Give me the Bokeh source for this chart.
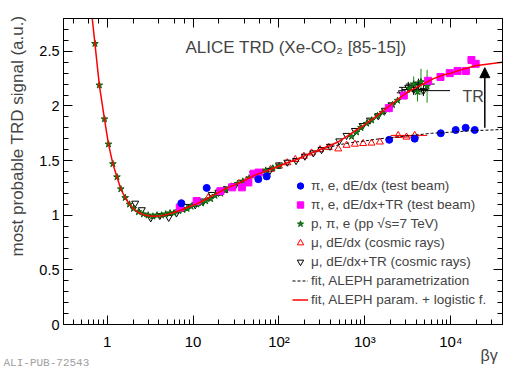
import numpy as np
from bokeh.plotting import figure
from bokeh.models import (LogAxis, LinearAxis, LogTicker, SingleIntervalTicker, Title,
                          Legend, LegendItem, Label, Arrow, NormalHead, Range1d)
from bokeh.embed import file_html
from bokeh.resources import INLINE

# ---- data ----
fit_bg = [0.67, 0.72, 0.81, 0.93, 1.035, 1.165, 1.30, 1.44, 1.62, 1.82, 2.02, 2.31, 2.64, 3.0,
          3.5, 4.3, 5.2, 6.2, 7.4, 8.5, 10, 13, 16, 20, 25, 31, 40, 50, 63, 80, 100, 125, 160,
          200, 250, 320, 400, 500, 630, 800, 1000, 1300, 1600, 2000, 2500, 3200, 4000, 5000,
          6300, 8000, 10000, 13000, 16000, 20000, 25000, 32000, 40000]
fit_val = [2.80, 2.57, 2.19, 1.88, 1.65, 1.47, 1.35, 1.24, 1.16, 1.10, 1.06, 1.025, 1.005, 0.995,
           0.99, 0.995, 1.01, 1.03, 1.05, 1.07, 1.09, 1.13, 1.17, 1.21, 1.25, 1.28, 1.32, 1.36,
           1.39, 1.42, 1.45, 1.48, 1.51, 1.545, 1.575, 1.61, 1.64, 1.675, 1.725, 1.78, 1.83,
           1.895, 1.95, 2.01, 2.07, 2.13, 2.17, 2.21, 2.25, 2.28, 2.30, 2.33, 2.35, 2.37, 2.38,
           2.39, 2.40]

aleph_bg = [150, 200, 250, 320, 400, 500, 700, 1000, 1500, 2000, 3000, 4000, 6000, 10000,
            15000, 20000, 30000, 40000]
aleph_val = [1.50, 1.545, 1.575, 1.605, 1.625, 1.645, 1.665, 1.68, 1.70, 1.71, 1.725, 1.735,
             1.75, 1.76, 1.77, 1.775, 1.78, 1.785]

blue_bg = [7.3, 14.4, 57.5, 72, 1920, 3800, 7650, 11400, 14900, 19000]
blue_val = [1.11, 1.25, 1.33, 1.355, 1.69, 1.70, 1.75, 1.78, 1.80, 1.78]

mag_bg = [7.0, 11, 20.8, 28.5, 37, 44, 50.6, 58, 1900, 2840, 5450, 7590, 9730, 12000, 15000,
          17400, 19500]
mag_val = [1.07, 1.13, 1.22, 1.255, 1.255, 1.30, 1.38, 1.39, 1.98, 2.095, 2.23, 2.265, 2.30,
           2.32, 2.32, 2.42, 2.385]

star_bg = [0.72, 0.81, 0.93, 1.035, 1.165, 1.30, 1.44, 1.62, 1.82, 2.02, 2.31, 2.64, 3.0, 3.4,
           3.8, 4.3, 4.8, 5.4, 6.0, 6.8, 7.6, 8.5, 9.5, 11, 12.5, 14, 16, 18, 21, 24, 28, 33,
           38, 45, 52, 60, 70, 85, 100, 700, 800, 900, 1050, 1200, 1400, 1600, 1850, 2100,
           2400, 2800, 3300, 3700, 4100, 4500, 5300]
star_val = [2.57, 2.19, 1.88, 1.65, 1.47, 1.35, 1.24, 1.16, 1.10, 1.06, 1.03, 1.01, 1.00, 0.99,
            1.00, 1.00, 1.01, 1.02, 1.02, 1.04, 1.05, 1.06, 1.08, 1.10, 1.11, 1.13, 1.15, 1.18,
            1.20, 1.23, 1.26, 1.29, 1.31, 1.34, 1.37, 1.39, 1.41, 1.43, 1.45, 1.72, 1.76, 1.80,
            1.84, 1.87, 1.91, 1.94, 1.97, 2.01, 2.05, 2.09, 2.16, 2.20, 2.13, 2.22, 2.18]
star_err = [0.0] * 50 + [0.04, 0.07, 0.09, 0.12, 0.15]

up_bg = [15, 19, 23, 28, 34, 42, 52, 65, 80, 100, 125, 155, 195, 240, 300, 380, 490, 612, 765,
         955, 1194, 1493, 2440, 3050, 3800]
up_val = [1.16, 1.20, 1.23, 1.26, 1.29, 1.32, 1.36, 1.39, 1.42, 1.45, 1.48, 1.51, 1.54, 1.57,
          1.60, 1.62, 1.607, 1.64, 1.65, 1.656, 1.66, 1.67, 1.73, 1.715, 1.73]
up_xlo = [None] * 22 + [2000, 2300, 2900]
up_xhi = [None] * 22 + [3000, 4300, 5300]

down_bg = [2.12, 2.53, 3.21, 4.1, 5.2, 6.4, 8.3, 10.6, 13.2, 16.5, 19.7, 24.5, 30.8, 38.5, 50,
           60, 78.5, 100, 125, 158, 200, 251, 313, 392, 503, 612, 765, 940, 1143, 1430, 1710,
           2040, 2700, 3200, 3700, 4200, 4800]
down_val = [1.11, 1.05, 0.976, 0.997, 0.98, 1.02, 1.08, 1.095, 1.13, 1.19, 1.21, 1.24, 1.27,
            1.30, 1.38, 1.39, 1.41, 1.46, 1.485, 1.50, 1.54, 1.57, 1.60, 1.63, 1.68, 1.73,
            1.775, 1.82, 1.87, 1.91, 1.96, 2.01, 2.12, 2.17, 2.15, 2.20, 2.14]
down_xlo = [None] * 32 + [2350, 2500, 2700, 3000, 3200]
down_xhi = [None] * 32 + [3100, 4200, 5500, 6500, 9800]

x_tick_labels = {1: "1", 10: "10", 100: "10²", 1000: "10³", 10000: "10⁴"}

FONT = "Liberation Sans"
NBSP = "\u00a0"

p = figure(x_axis_type="log", x_range=Range1d(0.31, 40000), y_range=Range1d(0, 2.8),
           frame_width=439, frame_height=306, min_border_left=63, min_border_top=18,
           min_border_right=26, min_border_bottom=44,
           output_backend="svg", toolbar_location=None)
p.xgrid.visible = False
p.ygrid.visible = False
p.outline_line_color = "black"
p.outline_line_width = 1
p.background_fill_color = "white"
p.border_fill_color = "white"


def style_axis(ax, show_labels, size="15px"):
    ax.major_tick_in = 9
    ax.major_tick_out = 0
    ax.minor_tick_in = 5
    ax.minor_tick_out = 0
    ax.axis_line_color = "black"
    ax.major_tick_line_color = "black"
    ax.minor_tick_line_color = "black"
    if show_labels:
        ax.major_label_text_font = FONT
        ax.major_label_text_font_size = size
        ax.major_label_text_color = "black"
    else:
        ax.major_label_text_font_size = "1px"
        ax.major_label_text_color = None
        ax.major_label_standoff = 0


xa = p.xaxis[0]
style_axis(xa, True, "15px")
xa.major_label_overrides = x_tick_labels
xa.major_label_standoff = 8
xa.axis_label = "βγ" + NBSP * 6
xa.axis_label_text_font = FONT
xa.axis_label_text_font_size = "16px"
xa.axis_label_text_font_style = "normal"
xa.axis_label_standoff = -6
xa.axis_label_align = "end"

ya = p.yaxis[0]
ya.ticker = SingleIntervalTicker(interval=0.5, num_minor_ticks=5)
style_axis(ya, True, "14.5px")
ya.major_label_standoff = 4
ya.axis_label = NBSP * 15 + "most probable TRD signal (a.u.)"
ya.axis_label_text_font = FONT
ya.axis_label_text_font_size = "17px"
ya.axis_label_text_font_style = "normal"
ya.axis_label_standoff = 9

top = LogAxis(ticker=LogTicker())
style_axis(top, False)
p.add_layout(top, "above")
right = LinearAxis(ticker=SingleIntervalTicker(interval=0.5, num_minor_ticks=5))
style_axis(right, False)
p.add_layout(right, "right")

# error bars
sb = [b for b, e in zip(star_bg, star_err) if e > 0]
sv = [v for v, e in zip(star_val, star_err) if e > 0]
se = [e for e in star_err if e > 0]
p.segment(sb, [v - e for v, e in zip(sv, se)], sb, [v + e for v, e in zip(sv, se)],
          line_color="#138a13", line_width=1)
dsel = [i for i, lo in enumerate(down_xlo) if lo is not None]
p.segment([down_xlo[i] for i in dsel], [down_val[i] for i in dsel],
          [down_xhi[i] for i in dsel], [down_val[i] for i in dsel], line_color="black", line_width=1)
p.segment([down_bg[i] for i in dsel], [down_val[i] - 0.05 for i in dsel],
          [down_bg[i] for i in dsel], [down_val[i] + 0.05 for i in dsel], line_color="black", line_width=1)
usel = [i for i, lo in enumerate(up_xlo) if lo is not None]
p.segment([up_xlo[i] for i in usel], [up_val[i] for i in usel],
          [up_xhi[i] for i in usel], [up_val[i] for i in usel], line_color="red", line_width=1)

r_up = p.scatter(up_bg, up_val, marker="triangle", size=7, fill_color=None, line_color="red")
r_down = p.scatter(down_bg, down_val, marker="inverted_triangle", size=7, fill_color=None,
                   line_color="black")
r_star = p.scatter(star_bg, star_val, marker="star", size=7, fill_color="#138a13",
                   line_color="#0d5e0d")
r_mag = p.scatter(mag_bg, mag_val, marker="square", size=7, fill_color="magenta",
                  line_color="magenta")
r_blue = p.scatter(blue_bg, blue_val, marker="circle", size=7, fill_color="blue",
                   line_color="blue")
r_dash = p.line(aleph_bg, aleph_val, line_color="black", line_dash="3 2", line_width=1)
r_red = p.line(fit_bg, fit_val, line_color="red", line_width=1.5)

legend = Legend(items=[
    LegendItem(label="π, e, dE/dx (test beam)", renderers=[r_blue]),
    LegendItem(label="π, e, dE/dx+TR (test beam)", renderers=[r_mag]),
    LegendItem(label="p, π, e (pp √s=7 TeV)", renderers=[r_star]),
    LegendItem(label="μ, dE/dx (cosmic rays)", renderers=[r_up]),
    LegendItem(label="μ, dE/dx+TR (cosmic rays)", renderers=[r_down]),
    LegendItem(label="fit, ALEPH parametrization", renderers=[r_dash]),
    LegendItem(label="fit, ALEPH param. + logistic f.", renderers=[r_red]),
], location=(229, 15), padding=0, margin=0, spacing=0, glyph_width=16, glyph_height=19,
    label_height=19, label_standoff=3, label_text_font=FONT, label_text_font_size="13.5px",
    border_line_alpha=0, background_fill_alpha=0)
p.add_layout(legend)

p.add_layout(Arrow(x_start=24900, y_start=1.80, x_end=24900, y_end=2.35, line_width=1.5,
                   end=NormalHead(size=10, fill_color="black", line_color="black")))
p.add_layout(Label(x=13700, y=2.09, text="TR", text_font=FONT, text_font_size="16px",
                   text_baseline="middle", text_align="left"))

p.add_layout(Label(x=122, y=306 - 29, x_units="screen", y_units="screen",
                   text="ALICE TRD (Xe-CO₂ [85-15])", text_font=FONT, text_font_size="17px",
                   text_baseline="alphabetic"))

p.add_layout(Title(text="ALI-PUB-72543", align="left", offset=-60, standoff=-20,
                   vertical_align="top",
                   text_font="Liberation Mono", text_font_size="11px", text_color="#a0a0a0",
                   text_font_style="normal"), "below")

open("out.html", "w").write(file_html(p, INLINE))
